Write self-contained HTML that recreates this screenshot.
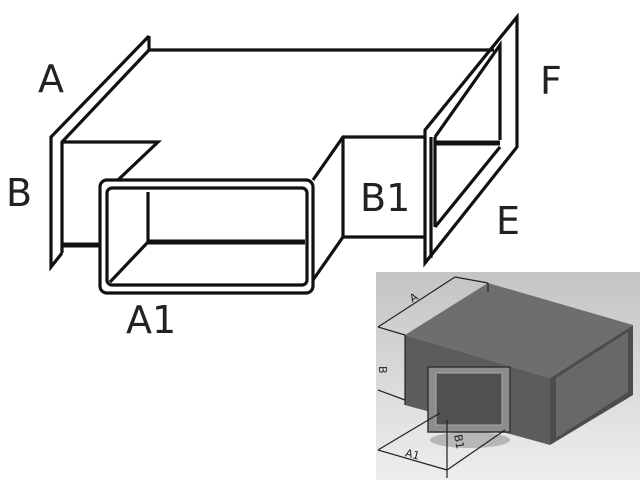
<!DOCTYPE html>
<html><head><meta charset="utf-8"><style>
html,body{margin:0;padding:0;background:#fff;}
svg{display:block}
text{font-family:"DejaVu Sans","Liberation Sans",sans-serif;font-weight:400;fill:#222}
</style></head><body>
<svg width="640" height="480" viewBox="0 0 640 480" xmlns="http://www.w3.org/2000/svg">
<rect width="640" height="480" fill="#fff"/>
<g fill="none" stroke="#111" stroke-width="3.2" stroke-linejoin="miter">
<line x1="149" y1="50" x2="494" y2="50"/>
<polyline points="149,36 51,137 51,267 62,253"/>
<polyline points="149,50 62,142 62,253"/>
<line x1="149" y1="36" x2="149" y2="50"/>
<polyline points="62,142 158,142 118,180"/>
<line x1="62" y1="245" x2="100" y2="245" stroke-width="5"/>
<rect x="100" y="180" width="213" height="113" rx="7"/>
<rect x="107" y="188" width="200" height="97" rx="5"/>
<polyline points="148,192 148,242"/>
<line x1="148" y1="242" x2="305" y2="242" stroke-width="5"/>
<line x1="148" y1="242" x2="110" y2="282"/>
<polyline points="313,180 343,137 424,137"/>
<line x1="343" y1="137" x2="343" y2="237"/>
<polyline points="313,280 343,237 424,237"/>
<polygon points="425,130 517,17 517,147 425,263"/>
<polyline points="435,137 500,45 500,140"/>
<line x1="435" y1="137" x2="435" y2="227"/>
<line x1="435" y1="227" x2="500" y2="147"/>
<line x1="431" y1="137" x2="431" y2="258"/>
<line x1="435" y1="143" x2="500" y2="143" stroke-width="5"/>
</g>
<text x="38" y="92" font-size="38">A</text>
<text x="6" y="206" font-size="38">B</text>
<text x="126" y="333" font-size="38">A1</text>
<text x="360" y="211" font-size="38">B1</text>
<text x="540" y="94" font-size="38">F</text>
<text x="496" y="234" font-size="38">E</text>
<defs><linearGradient id="bg" x1="0" y1="0" x2="0" y2="1">
<stop offset="0" stop-color="#c4c4c4"/><stop offset="1" stop-color="#eeeeee"/></linearGradient></defs>
<rect x="376" y="272" width="264" height="208" fill="url(#bg)"/>
<polygon points="405,335 488,283 633,325 550,378" fill="#6c6e70"/>
<polygon points="405,335 550,378 550,445 405,405" fill="#5a5c5e"/>
<polygon points="550,378 633,325 633,395 550,445" fill="#4a4c4e"/>
<polygon points="556,378 628,332 628,392 556,438" fill="#66686a"/>
<ellipse cx="470" cy="440" rx="40" ry="8" fill="#888" opacity="0.5"/>
<rect x="428" y="367" width="82" height="65" fill="#8a8c8e" stroke="#333" stroke-width="1.5"/>
<rect x="436" y="373" width="66" height="52" fill="#4e5052" stroke="#aaa" stroke-width="1"/>
<g stroke="#222" stroke-width="1.2" fill="none">
<line x1="378" y1="327" x2="455" y2="277"/>
<line x1="455" y1="277" x2="488" y2="283"/>
<line x1="378" y1="327" x2="405" y2="335"/>
<line x1="378" y1="390" x2="405" y2="400"/>
<line x1="378" y1="450" x2="440" y2="413"/>
<line x1="378" y1="450" x2="447" y2="470"/>
<line x1="447" y1="470" x2="505" y2="430"/>
<line x1="447" y1="420" x2="447" y2="478"/>
<line x1="405" y1="335" x2="405" y2="405"/>
<line x1="488" y1="283" x2="488" y2="292"/>
</g>
<text x="410" y="300" font-size="11" font-family="Liberation Serif" transform="rotate(-30 416 297)">A</text>
<text x="380" y="375" font-size="11" font-family="Liberation Serif" transform="rotate(90 384 370)">B</text>
<text x="405" y="458" font-size="11" font-family="Liberation Serif" transform="rotate(15 412 455)">A1</text>
<text x="450" y="440" font-size="11" font-family="Liberation Serif" transform="rotate(80 455 440)">B1</text>
</svg>
</body></html>
